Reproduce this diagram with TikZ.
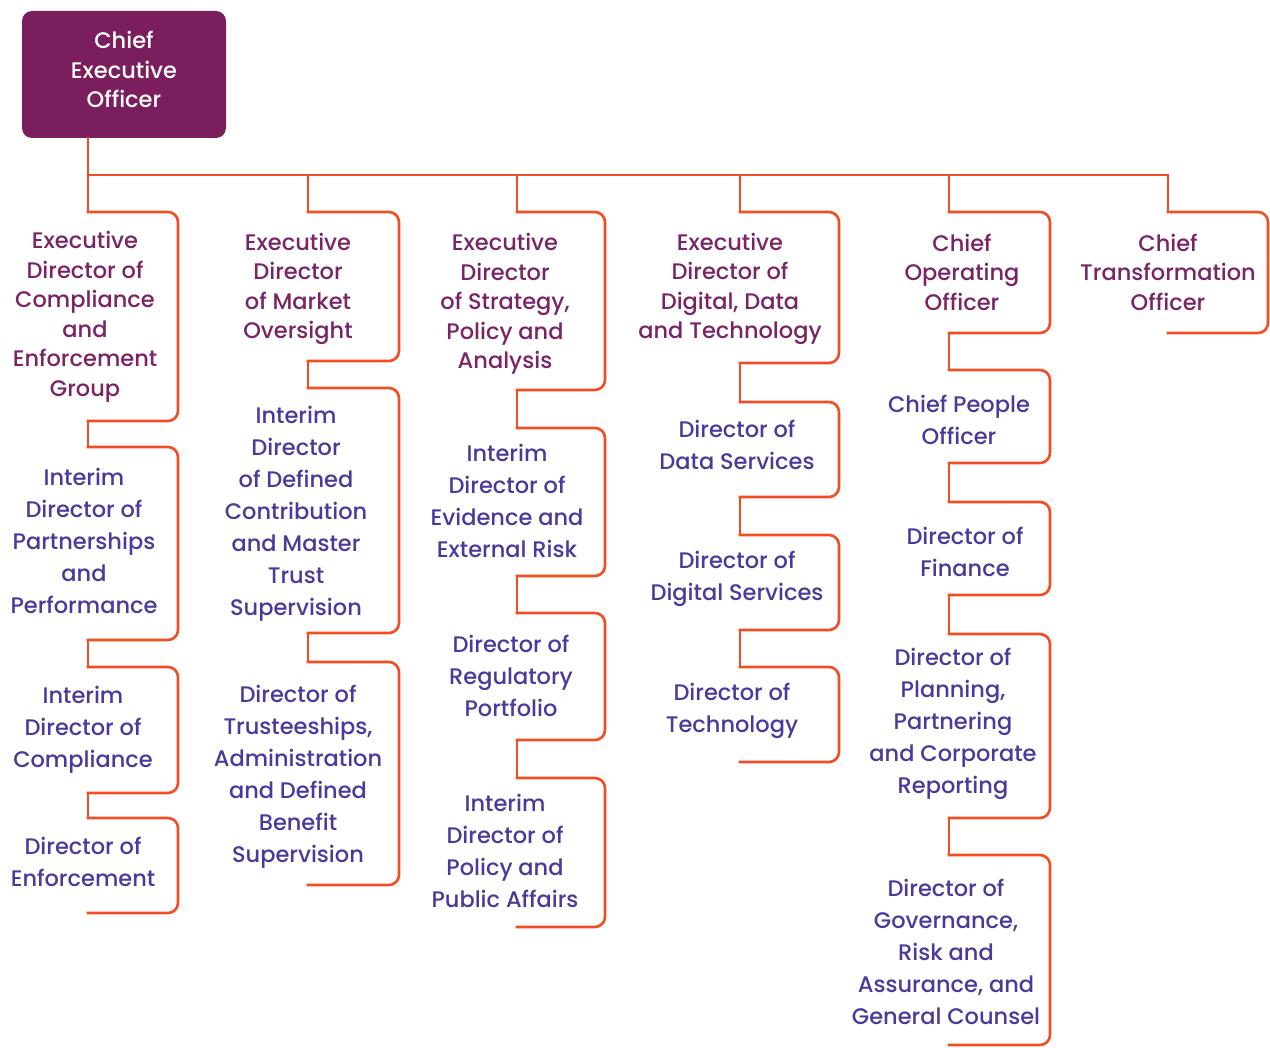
\documentclass[tikz,border=0pt]{standalone}
\usepackage{fontspec}
\IfFontExistsTF{Poppins Medium}{\setmainfont{Poppins Medium}}{\setmainfont{Poppins}}
\usetikzlibrary{positioning}
\definecolor{ceofill}{HTML}{7B1E5E}
\definecolor{headtext}{HTML}{7A2466}
\definecolor{subtext}{HTML}{4B3A9C}
\definecolor{linkedge}{HTML}{F04E23}

\begin{document}
\begin{tikzpicture}[
  x=1pt, y=-1pt,
  ceo/.style={rectangle, rounded corners=10pt, fill=ceofill, text=white,
              minimum width=204pt, minimum height=127pt, align=center,
              text depth=10pt, font=\fontsize{22.5}{29.5}\selectfont},
  head/.style={inner sep=0pt, align=center, text=headtext,
               font=\fontsize{22.5}{29.5}\selectfont},
  sub/.style={inner sep=0pt, align=center, text=subtext,
              font=\fontsize{22.5}{32}\selectfont},
  link/.style={draw=linkedge, line width=2.6pt, line cap=rect},
  bracket/.style={link, rounded corners=10pt},
]
\path[fill=white, use as bounding box] (0,0) rectangle (1270,1048);

\node[ceo] (ceo) at (124,74.5) {Chief\\Executive\\Officer};

% spine from the CEO out to the six columns
\coordinate (spine-l) at (88,175);
\coordinate (spine-r) at (1168,175);
\draw[link] (ceo.south -| spine-l) -- (spine-l);
\draw[link] (spine-l) -- (spine-r);

% columns: stem x / bracket right x / top-bottom of each bracket
\foreach \cx/\rx/\spans in {
    88/178/{212/421,447/640,667/793,818/913},
    308/399/{212/361,388/633,662/885},
    517/605/{212/390,428/576,613/740,778/927},
    740/839/{212/363,402/497,535/630,667/762},
    949/1050/{212/333,370/463,502/595,634/818,855/1045},
    1168/1268/{212/333}} {
  \foreach \t/\b [remember=\b as \pb (initially 175)] in \spans {
    \draw[link] (\cx,\pb) -- (\cx,\t);
    \draw[bracket] (\cx,\t) -- (\rx,\t) -- (\rx,\b) -- (\cx,\b);
  }
}

% column 1
\node[head] (ed-ceg) at (85,317) {Executive\\Director of\\Compliance\\and\\Enforcement\\Group};
\node[sub] (id-pp) at (84,541) {Interim\\Director of\\Partnerships\\and\\Performance};
\node[sub] (id-comp) at (83,730) {Interim\\Director of\\Compliance};
\node[sub] (d-enf) at (83,862) {Director of\\Enforcement};

% column 2
\node[head] (ed-mo) at (298,289) {Executive\\Director\\of Market\\Oversight};
\node[sub] (id-dc) at (296,514) {Interim\\Director\\of Defined\\Contribution\\and Master\\Trust\\Supervision};
\node[sub] (d-tadb) at (298,777) {Director of\\Trusteeships,\\Administration\\and Defined\\Benefit\\Supervision};

% column 3
\node[head] (ed-spa) at (505,304) {Executive\\Director\\of Strategy,\\Policy and\\Analysis};
\node[sub] (id-eer) at (507,501) {Interim\\Director of\\Evidence and\\External Risk};
\node[sub] (d-rp) at (511,676) {Director of\\Regulatory\\Portfolio};
\node[sub] (id-ppa) at (505,851) {Interim\\Director of\\Policy and\\Public Affairs};

% column 4
\node[head] (ed-ddt) at (730,289) {Executive\\Director of\\Digital, Data\\and Technology};
\node[sub] (d-ds) at (737,445) {Director of\\Data Services};
\node[sub] (d-dig) at (737,579) {Director of\\Digital Services};
\node[sub] (d-tech) at (732,711) {Director of\\Technology};

% column 5
\node[head] (coo) at (962,272) {Chief\\Operating\\Officer};
\node[sub] (cpo) at (959,420) {Chief People\\Officer};
\node[sub] (d-fin) at (965,552) {Director of\\Finance};
\node[sub] (d-ppcr) at (953,724) {Director of\\Planning,\\Partnering\\and Corporate\\Reporting};
\node[sub] (d-grag) at (946,952) {Director of\\Governance,\\Risk and\\Assurance, and\\General Counsel};

% column 6
\node[head] (cto) at (1168,272) {Chief\\Transformation\\Officer};
\end{tikzpicture}
\end{document}
